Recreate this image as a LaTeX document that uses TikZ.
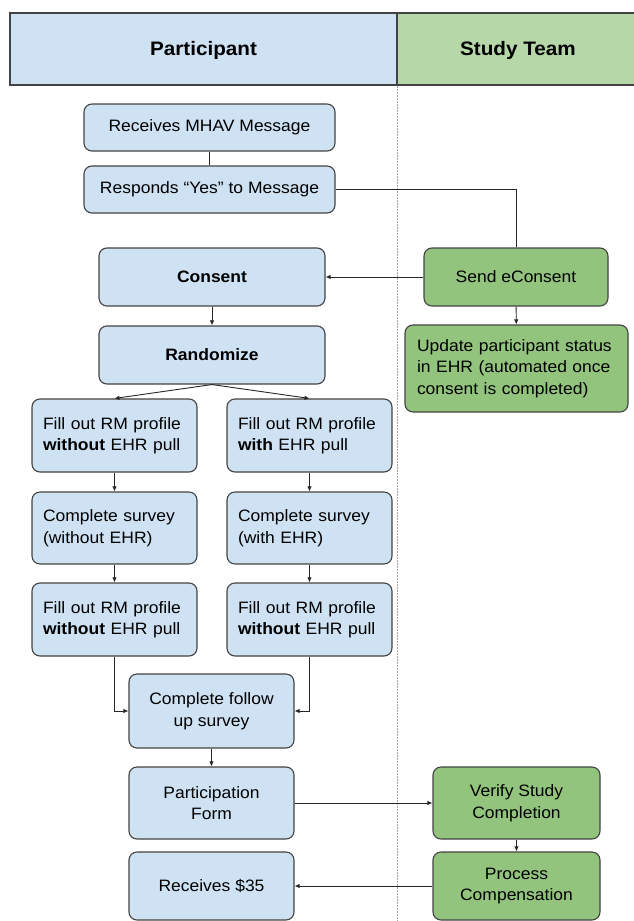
\documentclass[tikz,border=0pt]{standalone}
\usepackage{fontspec}
\setmainfont{Liberation Sans}[FakeStretch=1.06]
\usetikzlibrary{arrows.meta}
\definecolor{bfill}{HTML}{CFE2F3}
\definecolor{gfill}{HTML}{93C47D}
\definecolor{ghead}{HTML}{B6D7A8}
\definecolor{bord}{HTML}{434343}
\begin{document}
\begin{tikzpicture}[x=1pt,y=-1pt,
  box/.style={draw=bord, line width=1.1pt, rounded corners=8pt, font=\fontsize{16.5}{21.5}\selectfont, inner sep=0pt, align=center},
  pbox/.style={box, fill=bfill},
  gbox/.style={box, fill=gfill},
  lbox/.style={pbox, align=left, text width=143pt, minimum width=165pt, inner xsep=11pt, minimum height=73pt},
  link/.style={draw=black!85, line width=0.9pt},
  arr/.style={link, -{Latex[length=5pt,width=4.5pt]}},
  hdr/.style={font=\fontsize{19.5}{24}\selectfont\bfseries}
]
\useasboundingbox (0,0) rectangle (633,921);
\fill[white] (0,0) rectangle (633,921);
% header
\draw[draw=bord, line width=1.1pt, fill=bfill] (10,13) rectangle (397,85);
\draw[draw=bord, line width=1.1pt, fill=ghead] (397,13) rectangle (640,85);
\node[hdr] (hp) at (203.5,50) {Participant};
\node[hdr] (hs) at (518,50) {Study Team};
\draw[gray!70, line width=0.9pt, dash pattern=on 1.5pt off 1.5pt] (397,86) -- (397,921);

% nodes
\node[pbox, minimum width=251pt, minimum height=47pt] (recv) at (209.5,127.5) {Receives MHAV Message};
\node[pbox, minimum width=251pt, minimum height=47pt] (resp) at (209.5,189.5) {Responds “Yes” to Message};
\node[pbox, minimum width=226pt, minimum height=58pt] (consent) at (212,277) {\bfseries Consent};
\node[gbox, minimum width=184pt, minimum height=58pt] (send) at (516,277) {Send eConsent};
\node[pbox, minimum width=226pt, minimum height=58pt] (rand) at (212,355) {\bfseries Randomize};
\node[gbox, align=left, text width=199pt, inner xsep=12pt, minimum width=223pt, minimum height=87pt] (update) at (516.5,368.5) {Update participant status in EHR (automated once consent is completed)};

\node[lbox] (fill1) at (114.5,435.5) {Fill out RM profile\\\textbf{without} EHR pull};
\node[lbox] (fill2) at (309.5,435.5) {Fill out RM profile\\\textbf{with} EHR pull};
\node[lbox, minimum height=72pt] (surv1) at (114.5,528) {Complete survey\\(without EHR)};
\node[lbox, minimum height=72pt] (surv2) at (309.5,528) {Complete survey\\(with EHR)};
\node[lbox] (fill3) at (114.5,619.5) {Fill out RM profile\\\textbf{without} EHR pull};
\node[lbox] (fill4) at (309.5,619.5) {Fill out RM profile\\\textbf{without} EHR pull};

\node[pbox, minimum width=165pt, minimum height=74pt] (follow) at (211.5,711) {Complete follow\\up survey};
\node[pbox, minimum width=165pt, minimum height=72pt] (part) at (211.5,803) {Participation\\Form};
\node[gbox, minimum width=167pt, minimum height=72pt] (verify) at (516.5,803) {Verify Study\\Completion};
\node[gbox, minimum width=167pt, minimum height=68pt] (proc) at (516.5,886) {Process\\Compensation};
\node[pbox, minimum width=165pt, minimum height=68pt] (r35) at (211.5,886) {Receives \$35};

% connectors
\draw[link] (recv) -- (resp);
\draw[link] (resp.east) -| (send.north);
\draw[arr] (send.west) -- (consent.east);
\draw[arr] (consent) -- (rand);
\draw[arr] (send) -- (update);
\draw[arr] (rand.south) -- (fill1.north);
\draw[arr] (rand.south) -- (fill2.north);
\draw[arr] (fill1) -- (surv1);
\draw[arr] (surv1) -- (fill3);
\draw[arr] (fill2) -- (surv2);
\draw[arr] (surv2) -- (fill4);
\draw[arr] (fill3.south) |- (follow.west);
\draw[arr] (fill4.south) |- (follow.east);
\draw[arr] (follow) -- (part);
\draw[arr] (part.east) -- (verify.west);
\draw[arr] (verify) -- (proc);
\draw[arr] (proc.west) -- (r35.east);
\end{tikzpicture}
\end{document}
